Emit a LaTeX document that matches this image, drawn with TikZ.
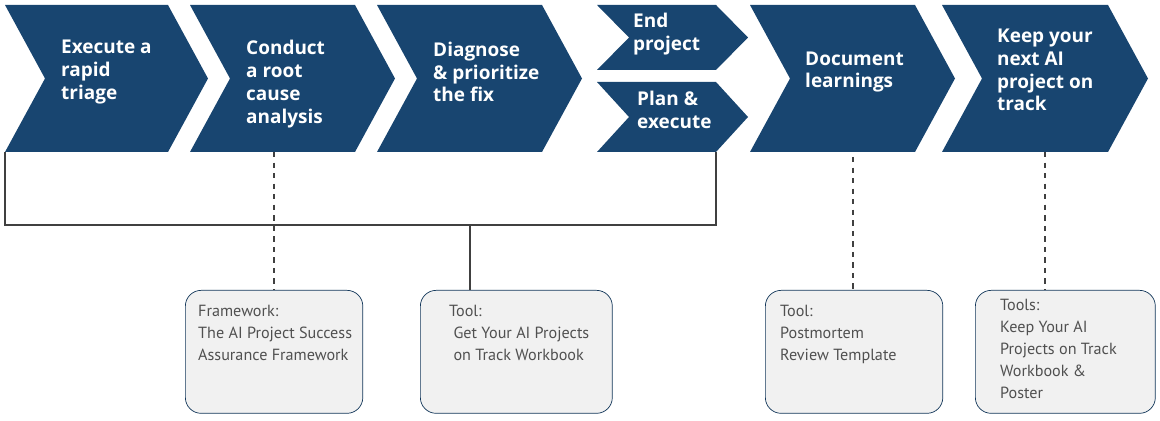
\documentclass[tikz,border=0pt]{standalone}
\usepackage{fontspec}
\setmainfont{Open Sans}
\newfontfamily\boxfont{PT Sans}
\usetikzlibrary{positioning}
\definecolor{navy}{HTML}{184570}
\definecolor{boxgray}{HTML}{F1F1F1}
\definecolor{txtgray}{HTML}{505050}
\tikzset{
  chevtext/.style={text=white,font=\bfseries\fontsize{10.8}{13}\selectfont,align=left,anchor=west},
  toolbox/.style={draw=navy!80!black,fill=boxgray,rounded corners=9pt,minimum width=3.55cm,minimum height=2.46cm,anchor=north west},
  tooltext/.style={text=txtgray,font=\boxfont\fontsize{9.2}{12.5}\selectfont,align=left,anchor=north west},
  link/.style={black!75,thick}
}
% chevron: x1, top, x2 (tip), bottom, depth
\newcommand{\chev}[5]{\fill[navy] (#1,#2) -- (#3-#5,#2) -- (#3,#2/2+#4/2) -- (#3-#5,#4) -- (#1,#4) -- (#1+#5,#2/2+#4/2) -- cycle;}
\begin{document}
\begin{tikzpicture}[x=0.02cm,y=-0.02cm]
\useasboundingbox (0,0) rectangle (1160,421);
\chev{5}{5}{208}{152}{40}
\chev{190}{5}{395}{152}{40}
\chev{377}{5}{582}{152}{40}
\chev{597}{5}{748}{70}{32}
\chev{597}{82}{748}{152}{32}
\chev{750}{5}{955}{152}{40}
\chev{942}{5}{1148}{152}{40}
\node[chevtext] (triage) at (55,72) {Execute a\\rapid\\triage};
\node[chevtext] (root) at (240,84) {Conduct\\a root\\cause\\analysis};
\node[chevtext] (diag) at (427,72) {Diagnose\\\& prioritize\\the fix};
\node[chevtext] (endp) at (627,34) {End\\project};
\node[chevtext] (plan) at (631,110) {Plan \&\\execute};
\node[chevtext] (doc) at (799,72) {Document\\learnings};
\node[chevtext] (keep) at (991,70) {Keep your\\next AI\\project on\\track};
% tool boxes
\node[toolbox] (b1) at (185,290) {};
\node[toolbox,minimum width=3.84cm] (b2) at (420,290) {};
\node[toolbox] (b3) at (765,290) {};
\node[toolbox,minimum width=3.6cm] (b4) at (975,290) {};
\node[tooltext] at (192,299) {Framework:\\The AI Project Success\\Assurance Framework};
\node[tooltext] at (443,299) {Tool:\\\ Get Your AI Projects\\\ on Track Workbook};
\node[tooltext] at (774,299) {Tool:\\Postmortem\\Review Template};
\node[tooltext] at (994,293) {Tools:\\Keep Your AI\\Projects on Track\\Workbook \&\\Poster};
% connectors
\coordinate (bl) at (5,152);
\coordinate (br) at (716,152);
\draw[link] (bl) -- (5,225) -- (716,225) -- (br);
\draw[link] (470,225) -- (b2.north -| 470,0);
\draw[link,dashed] (274,152) -- (b1.north -| 274,0);
\draw[link,dashed] (853,157) -- (b3.north -| 853,0);
\draw[link,dashed] (1045,152) -- (b4.north -| 1045,0);
\end{tikzpicture}
\end{document}
